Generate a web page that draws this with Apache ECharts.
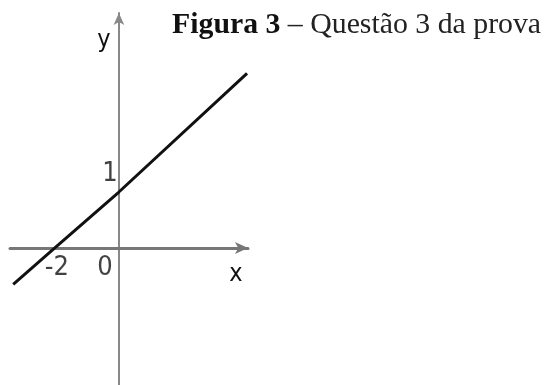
<!DOCTYPE html>
<html>
<head>
<meta charset="utf-8">
<script src="https://cdn.jsdelivr.net/npm/echarts@6/dist/echarts.min.js"></script>
<style>
  html, body { margin: 0; padding: 0; background: #fff; }
  #chart { width: 547px; height: 385px; }
</style>
</head>
<body>
<div id="chart"></div>
<script>
// pontos (reta y = x/2 + 1)
const lineX = [-3.3, -2, 0, 4.0]
const lineY = [-0.65, 0, 1, 3.12]
// rótulos dos eixos
const xTickValues = [-2, 0]
const yTickValues = [1]
const xRange = [-3.4, 4.03]
const yRange = [-2.45, 4.2]

const chart = echarts.init(document.getElementById('chart'))

const labelFont = 'DejaVu Sans Condensed, Liberation Sans Narrow, sans-serif'

// deslocamento dos rótulos em relação ao ponto no eixo
const xLabelOffset = v => (v === 0 ? [-14, 20] : [2, 20])
const yLabelOffset = [-9, -18]

const tickLabels = [
  ...xTickValues.map(v => ({
    value: [v, 0],
    label: { formatter: String(v), offset: xLabelOffset(v) }
  })),
  ...yTickValues.map(v => ({
    value: [0, v],
    label: { formatter: String(v), offset: yLabelOffset }
  }))
]

const option = {
  animation: false,
  title: {
    text: '{b|Figura 3} – Questão 3 da prova',
    left: 167,
    top: 5,
    textStyle: {
      fontFamily: 'Liberation Serif',
      fontSize: 29.8,
      fontWeight: 'normal',
      color: '#222',
      rich: {
        b: { fontFamily: 'Liberation Serif', fontSize: 29.8, fontWeight: 'bold', color: '#111' }
      }
    }
  },
  grid: { left: 10, right: 299, top: 13, bottom: 0, outerBoundsMode: 'none' },
  xAxis: {
    type: 'value',
    min: xRange[0],
    max: xRange[1],
    name: 'x',
    nameLocation: 'end',
    nameGap: -12,
    nameTextStyle: {
      fontFamily: labelFont, fontSize: 25, color: '#111',
      align: 'center', verticalAlign: 'top', padding: [14, 0, 0, 0]
    },
    axisLine: {
      onZero: true,
      symbol: ['none', 'arrow'],
      symbolSize: [9, 13],
      lineStyle: { color: '#777', width: 3 }
    },
    axisTick: { show: false },
    splitLine: { show: false },
    axisLabel: { show: false }
  },
  yAxis: {
    type: 'value',
    min: yRange[0],
    max: yRange[1],
    name: 'y',
    nameLocation: 'end',
    nameGap: -40,
    nameTextStyle: {
      fontFamily: labelFont, fontSize: 25, color: '#111',
      align: 'center', padding: [0, 30, 0, 0]
    },
    axisLine: {
      onZero: true,
      symbol: ['none', 'arrow'],
      symbolSize: [8, 12],
      lineStyle: { color: '#888', width: 2 }
    },
    axisTick: { show: false },
    splitLine: { show: false },
    axisLabel: { show: false }
  },
  series: [
    {
      type: 'line',
      data: lineX.map((x, i) => [x, lineY[i]]),
      symbol: 'none',
      lineStyle: { color: '#111', width: 3 }
    },
    {
      type: 'scatter',
      symbolSize: 0,
      silent: true,
      data: tickLabels,
      label: {
        show: true,
        position: 'inside',
        fontFamily: labelFont,
        fontSize: 27,
        color: '#111'
      }
    }
  ]
}

chart.setOption(option)
</script>
</body>
</html>
